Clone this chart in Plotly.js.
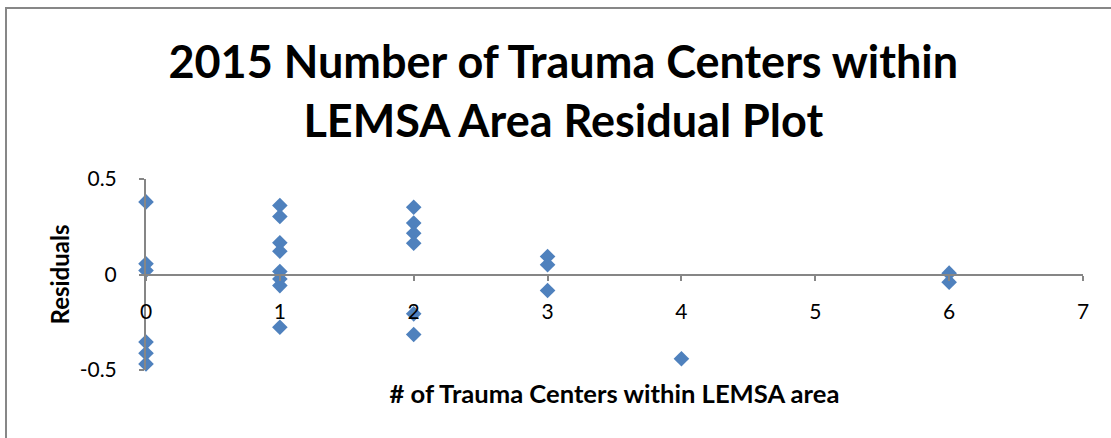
<!DOCTYPE html>
<html>
<head>
<meta charset="utf-8">
<script src="https://cdn.plot.ly/plotly-3.0.1.min.js"></script>
<style>
  html, body { margin: 0; padding: 0; background: #ffffff; overflow: hidden; }
  #frame { position: absolute; left: 5px; top: 7px; width: 1200px; height: 500px;
           border-left: 2px solid #878787; border-top: 2px solid #878787; pointer-events: none; }
  #chart { position: absolute; left: 0; top: 0; width: 1111px; height: 438px; }
</style>
</head>
<body>
<div id="chart"></div>
<div id="frame"></div>
<script>
// Number of trauma centers within LEMSA area (x) and residuals (y)
const traumaCenters = [0, 0, 0, 0, 0, 0,
                       1, 1, 1, 1, 1, 1, 1, 1,
                       2, 2, 2, 2, 2, 2,
                       3, 3, 3,
                       4,
                       6, 6];
const residuals = [0.38, 0.056, 0.021, -0.354, -0.412, -0.468,
                   0.361, 0.304, 0.166, 0.122, 0.016, -0.023, -0.058, -0.276,
                   0.352, 0.269, 0.216, 0.164, -0.206, -0.314,
                   0.094, 0.051, -0.084,
                   -0.441,
                   0.007, -0.040];
const xTicks = [0, 1, 2, 3, 4, 5, 6, 7];
const yTicks = [-0.5, 0, 0.5];
const yTickLabels = ['-0.5', '0', '0.5'];

const trace = {
  type: 'scatter',
  mode: 'markers',
  x: traumaCenters,
  y: residuals,
  cliponaxis: false,
  marker: { symbol: 'diamond', size: 12, color: '#4F81BD', line: { width: 0 } },
  hoverinfo: 'x+y',
  showlegend: false
};

const layout = {
  width: 1111,
  height: 438,
  paper_bgcolor: '#ffffff',
  plot_bgcolor: '#ffffff',
  margin: { l: 146, r: 28, t: 179, b: 68 },
  font: { family: 'Lato, "Open Sans", sans-serif', color: '#000000' },
  title: {
    text: '<b>2015 Number of Trauma Centers within<br>LEMSA Area Residual Plot</b>',
    font: { family: 'Lato, "Open Sans", sans-serif', size: 45, color: '#000000' },
    x: 0.507, xanchor: 'center',
    xref: 'container',
    y: 1 - 78 / 438, yanchor: 'middle', yref: 'container'
  },
  xaxis: {
    range: [0, 7],
    tickvals: xTicks,
    ticktext: xTicks.map(String),
    anchor: 'free',
    position: 0.5,
    showline: true,
    linecolor: '#868686',
    linewidth: 2,
    ticks: 'outside',
    ticklen: 5,
    tickwidth: 2,
    tickcolor: '#868686',
    ticklabelstandoff: 13,
    showgrid: false,
    zeroline: false,
    tickfont: { size: 21, color: '#000000' },
    title: {
      text: '<b># of Trauma Centers within LEMSA area</b>',
      font: { size: 25.6, color: '#000000' },
      standoff: 62
    }
  },
  yaxis: {
    range: [-0.5, 0.5],
    tickvals: yTicks,
    ticktext: yTickLabels,
    showline: true,
    linecolor: '#868686',
    linewidth: 2,
    ticks: 'outside',
    ticklen: 5,
    tickwidth: 2,
    tickcolor: '#868686',
    ticklabelstandoff: 18,
    showgrid: false,
    zeroline: false,
    tickfont: { size: 21, color: '#000000' },
    title: {
      text: '<b>Residuals</b>',
      font: { size: 24, color: '#000000' },
      standoff: 3
    }
  }
};

Plotly.newPlot('chart', [trace], layout, { displayModeBar: false, staticPlot: false });
</script>
</body>
</html>
